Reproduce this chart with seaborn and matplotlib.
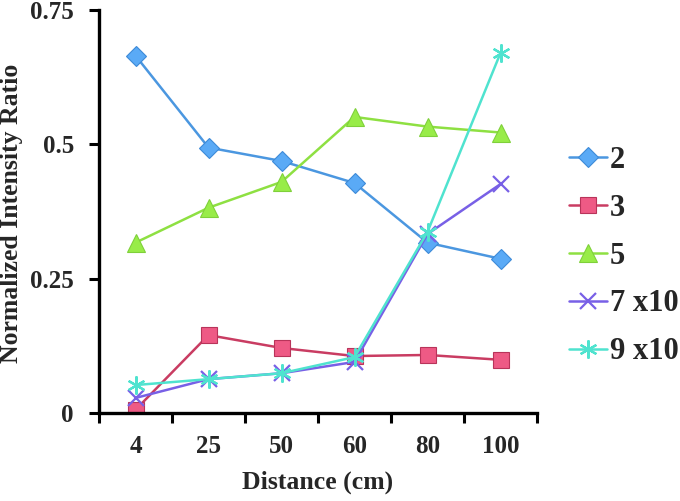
import matplotlib
matplotlib.use("Agg")
import matplotlib.pyplot as plt
import numpy as np
import pandas as pd
import seaborn as sns

# Data
distances = ["4", "25", "50", "60", "80", "100"]
s2 = [0.665, 0.494, 0.469, 0.428, 0.317, 0.287]
s3 = [0.006, 0.145, 0.121, 0.106, 0.108, 0.099]
s5 = [0.317, 0.382, 0.430, 0.551, 0.533, 0.522]
s7 = [0.028, 0.063, 0.074, 0.095, 0.333, 0.426]
s9 = [0.052, 0.063, 0.074, 0.104, 0.337, 0.670]
labels = ["2", "3", "5", "7 x10", "9 x10"]

sns.set_style("white")
plt.rcParams["font.family"] = ["Liberation Serif", "DejaVu Serif"]
plt.rcParams["font.weight"] = "bold"

series = [s2, s3, s5, s7, s9]
line_colors = ["#4b97e0", "#c93c62", "#8ee042", "#7860e6", "#4fe3cf"]
face_colors = ["#5aaaf6", "#ee5a85", "#98ec48", "#7860e6", "#4fe3cf"]
edge_colors = ["#3d8ad8", "#b8345a", "#7fd03a", "#7860e6", "#4fe3cf"]
markers = ["D", "s", "^", "x", (6, 2, 0)]
msizes = [10, 12, 13, 12, 13]

fig = plt.figure(figsize=(6.8, 5.01), dpi=100)
ax = fig.add_axes([99 / 680, 88 / 501, 438 / 680, 403 / 501])

pos = np.arange(len(distances))
for vals, lab, lc, fc, ec, m, ms in zip(series, labels, line_colors, face_colors,
                                         edge_colors, markers, msizes):
    df = pd.DataFrame({"x": pos, "y": vals})
    sns.lineplot(data=df, x="x", y="y", ax=ax, color=lc, linewidth=1.8,
                 marker=m, markersize=ms, markerfacecolor=fc,
                 markeredgecolor=ec, markeredgewidth=1.6 if m in ("x", (6, 2, 0)) else 0.8,
                 label=lab)

ax.set_xlim(-0.5, len(distances) - 0.5)
ax.set_ylim(0, 0.75)
ax.set_xticks(pos)
ax.set_xticklabels(distances)
ax.set_xticks(np.arange(-0.5, len(distances)), minor=True)
ax.set_yticks([0, 0.25, 0.5, 0.75])
ax.set_yticklabels(["0", "0.25", "0.5", "0.75"])
ax.tick_params(axis="x", which="major", length=0, pad=16, labelsize=18)
ax.tick_params(axis="x", which="minor", length=7, width=2.2, direction="out", color="black", bottom=True)
ax.tick_params(axis="y", length=7, width=2.2, direction="out", color="black", left=True,
               labelsize=18, pad=11)
for t in ax.get_xticklabels() + ax.get_yticklabels():
    t.set_fontweight("bold")

sns.despine(ax=ax)
for side in ["left", "bottom"]:
    ax.spines[side].set_linewidth(2.4)
    ax.spines[side].set_color("black")

ax.set_xlabel("Distance (cm)", fontsize=18.5, fontweight="bold")
ax.set_ylabel("Normalized Intensity Ratio", fontsize=18.5, fontweight="bold")
ax.xaxis.set_label_coords(318 / 680, 1 - 471 / 501, transform=fig.transFigure)
ax.yaxis.set_label_coords(23 / 680, 1 - 213 / 501, transform=fig.transFigure)

leg = ax.legend(loc="center left", bbox_to_anchor=(569 / 680, 1 - 256 / 501),
                bbox_transform=fig.transFigure, frameon=False, borderpad=0,
                borderaxespad=0, labelspacing=0.62, handlelength=1.25, handletextpad=0.08,
                prop={"weight": "bold", "size": 22})

fig.savefig("out.png", dpi=100)
